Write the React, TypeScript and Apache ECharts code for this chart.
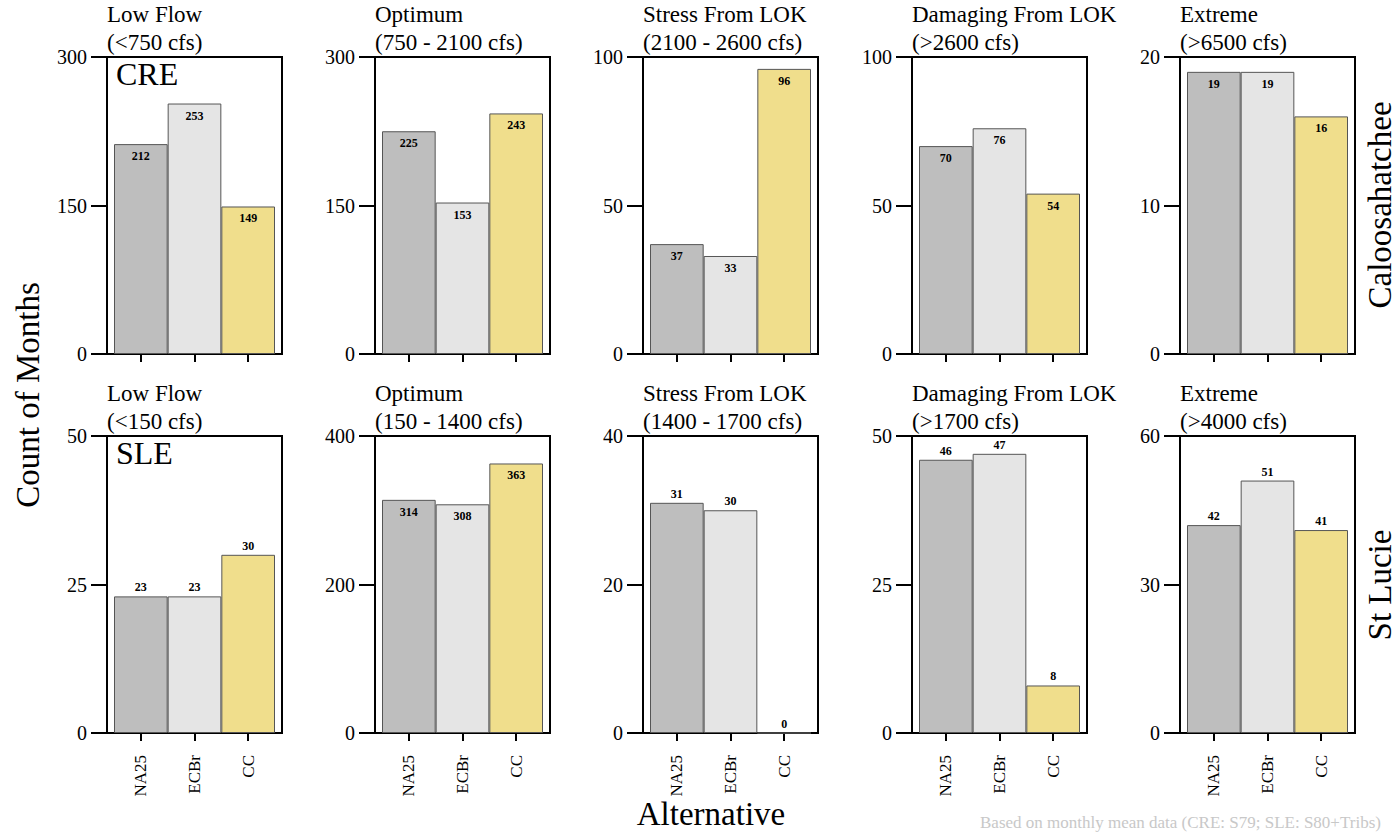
import React, { useEffect, useRef } from "react";
import * as echarts from "echarts";

const categories = ["NA25", "ECBr", "CC"];
const barColors = ["#BEBEBE", "#E5E5E5", "#F0DE8C"];

const creLowFlow = [212, 253, 149];
const creOptimum = [225, 153, 243];
const creStress = [37, 33, 96];
const creDamaging = [70, 76, 54];
const creExtreme = [19, 19, 16];

const sleLowFlow = [23, 23, 30];
const sleOptimum = [314, 308, 363];
const sleStress = [31, 30, 0];
const sleDamaging = [46, 47, 8];
const sleExtreme = [42, 51, 41];

const creTitles = [
  "Low Flow\n(<750 cfs)",
  "Optimum\n(750 - 2100 cfs)",
  "Stress From LOK\n(2100 - 2600 cfs)",
  "Damaging From LOK\n(>2600 cfs)",
  "Extreme\n(>6500 cfs)",
];
const sleTitles = [
  "Low Flow\n(<150 cfs)",
  "Optimum\n(150 - 1400 cfs)",
  "Stress From LOK\n(1400 - 1700 cfs)",
  "Damaging From LOK\n(>1700 cfs)",
  "Extreme\n(>4000 cfs)",
];
const creMax = [300, 300, 100, 100, 20];
const sleMax = [50, 400, 40, 50, 60];
const creLabelPos = ["insideTop", "insideTop", "insideTop", "insideTop", "insideTop"];
const sleLabelPos = ["top", "insideTop", "top", "top", "top"];

const SERIF = "'Liberation Serif', 'DejaVu Serif', serif";

export default function App() {
  const ref = useRef<HTMLDivElement>(null);
  useEffect(() => {
    if (!ref.current) return;
    const chart = echarts.init(ref.current, undefined, { renderer: "svg" });
    const rows = [
      { data: [creLowFlow, creOptimum, creStress, creDamaging, creExtreme], titles: creTitles, max: creMax, pos: creLabelPos, showX: false },
      { data: [sleLowFlow, sleOptimum, sleStress, sleDamaging, sleExtreme], titles: sleTitles, max: sleMax, pos: sleLabelPos, showX: true },
    ];
    const boxLefts = [107, 375, 643, 912, 1180];
    const boxTops = [57, 436];
    const boxW = 175;
    const boxH = 297;
    const grid: any[] = [];
    const xAxis: any[] = [];
    const yAxis: any[] = [];
    const series: any[] = [];
    const graphic: any[] = [];
    rows.forEach((row, r) => {
      row.data.forEach((vals, c) => {
        const left = boxLefts[c];
        const top = boxTops[r];
        const bi = grid.length;
        grid.push({ left, top, width: boxW, height: boxH, show: true, borderColor: "#000", borderWidth: 2, backgroundColor: "transparent" });
        xAxis.push({ gridIndex: bi, type: "value", show: false });
        yAxis.push({ gridIndex: bi, type: "value", show: false });
        const gi = grid.length;
        grid.push({ left: left + 7, top, width: boxW - 14, height: boxH });
        xAxis.push({
          gridIndex: gi,
          type: "category",
          data: categories,
          axisLine: { show: false },
          axisTick: { show: true, length: 8, alignWithLabel: true, lineStyle: { color: "#000", width: 2 } },
          axisLabel: { show: row.showX, rotate: 90, align: "right", verticalAlign: "middle", margin: 22, fontSize: 17, color: "#000", fontFamily: SERIF },
        });
        const max = row.max[c];
        yAxis.push({
          gridIndex: gi,
          type: "value",
          min: 0,
          max,
          interval: max / 2,
          offset: 7,
          axisLine: { show: false },
          axisTick: { show: true, length: 16, lineStyle: { color: "#000", width: 2 } },
          axisLabel: { margin: 20, fontSize: 20, color: "#000", fontFamily: SERIF },
          splitLine: { show: false },
        });
        series.push({
          type: "bar",
          xAxisIndex: xAxis.length - 1,
          yAxisIndex: yAxis.length - 1,
          barCategoryGap: "0%",
          data: vals.map((v, k) => ({ value: v, itemStyle: { color: barColors[k] } })),
          itemStyle: { borderColor: "#555", borderWidth: 1 },
          label: {
            show: true,
            position: row.pos[c],
            distance: row.pos[c] === "top" ? 3 : 6,
            fontSize: 12,
            fontWeight: "bold",
            color: "#000",
            fontFamily: SERIF,
          },
        });
        graphic.push({
          type: "text",
          left: left,
          top: top - 57,
          style: { text: row.titles[c], fontSize: 23, lineHeight: 28, fill: "#000", fontFamily: SERIF },
        });
      });
    });
    graphic.push({ type: "text", x: 116, y: 74, style: { text: "CRE", fontSize: 32, fill: "#000", fontFamily: SERIF, textVerticalAlign: "middle" } });
    graphic.push({ type: "text", x: 116, y: 453, style: { text: "SLE", fontSize: 32, fill: "#000", fontFamily: SERIF, textVerticalAlign: "middle" } });
    graphic.push({ type: "text", x: 28, y: 395, rotation: Math.PI / 2, style: { text: "Count of Months", fontSize: 33, fill: "#000", fontFamily: SERIF, textAlign: "center", textVerticalAlign: "middle" } });
    graphic.push({ type: "text", x: 711, y: 814, style: { text: "Alternative", fontSize: 33, fill: "#000", fontFamily: SERIF, textAlign: "center", textVerticalAlign: "middle" } });
    graphic.push({ type: "text", x: 1380, y: 205, rotation: Math.PI / 2, style: { text: "Caloosahatchee", fontSize: 33, fill: "#000", fontFamily: SERIF, textAlign: "center", textVerticalAlign: "middle" } });
    graphic.push({ type: "text", x: 1380, y: 585, rotation: Math.PI / 2, style: { text: "St Lucie", fontSize: 33, fill: "#000", fontFamily: SERIF, textAlign: "center", textVerticalAlign: "middle" } });
    graphic.push({ type: "text", x: 980, y: 814, style: { text: "Based on monthly mean data (CRE: S79; SLE: S80+Tribs)", fontSize: 17, fill: "#C8C8C8", fontFamily: SERIF, textVerticalAlign: "top" } });

    chart.setOption({ animation: false, backgroundColor: "#fff", grid, xAxis, yAxis, series, graphic });
    return () => chart.dispose();
  }, []);
  return <div ref={ref} style={{ position: "absolute", left: 0, top: 0, width: 1400, height: 832 }} />;
}
